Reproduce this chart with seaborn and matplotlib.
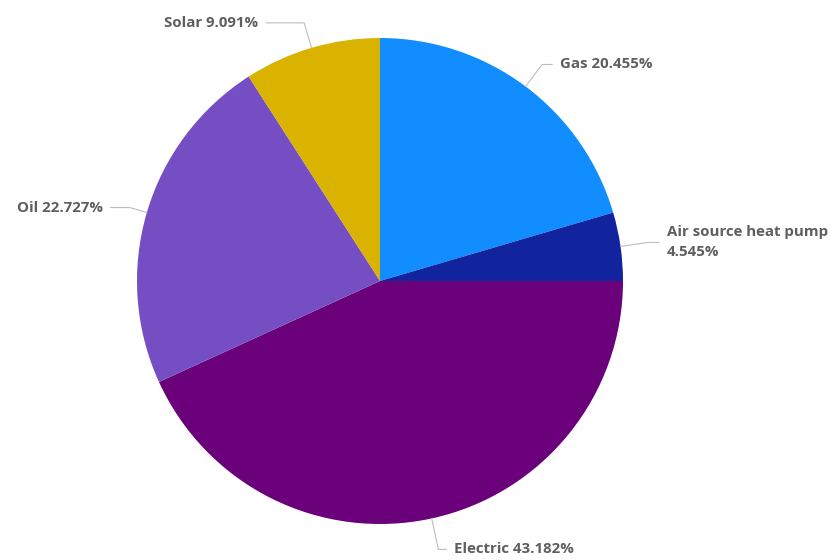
import matplotlib
matplotlib.use("Agg")
import matplotlib.pyplot as plt
import numpy as np
import seaborn as sns

# Data (clockwise from 12 o'clock)
sources = ["Gas", "Air source heat pump", "Electric", "Oil", "Solar"]
shares = [20.455, 4.545, 43.182, 22.727, 9.091]
label_text = ["Gas 20.455%", "Air source heat pump\n4.545%", "Electric 43.182%",
              "Oil 22.727%", "Solar 9.091%"]
colors = ["#118DFF", "#12239E", "#6B007B", "#744EC2", "#D9B300"]

# label offsets from the slice edge, in pixels (layout only)
offsets = [(34, 22), (46, 4), (22, -31), (-44, 5), (-53, 25)]
aligns = ["left", "left", "left", "right", "right"]

sns.set_theme(style="white")
plt.rcParams['font.family'] = ['Open Sans', 'DejaVu Sans']

fig = plt.figure(figsize=(8.3, 5.6), dpi=100)
ax = fig.add_axes([137 / 830, 36 / 560, 486 / 830, 486 / 560])

wedges, _ = ax.pie(shares, colors=sns.color_palette(colors), startangle=90,
                   counterclock=False, radius=1.0,
                   wedgeprops=dict(linewidth=0))
ax.set_xlim(-1, 1)
ax.set_ylim(-1, 1)
ax.set_aspect("equal")
ax.axis("off")

for w, txt, off, ha in zip(wedges, label_text, offsets, aligns):
    mid = (w.theta1 + w.theta2) / 2.0
    x, y = np.cos(np.radians(mid)), np.sin(np.radians(mid))
    ax.annotate(txt, xy=(x, y), xytext=off, textcoords="offset pixels",
                ha=ha, va="center", fontsize=10.8, fontweight="bold",
                color="#605E5C", linespacing=1.55,
                arrowprops=dict(arrowstyle="-", color="#BDBDBD", lw=0.8,
                                shrinkA=3, shrinkB=0,
                                connectionstyle=f"angle,angleA=0,angleB={mid}"))

fig.savefig("out.png", dpi=100)
